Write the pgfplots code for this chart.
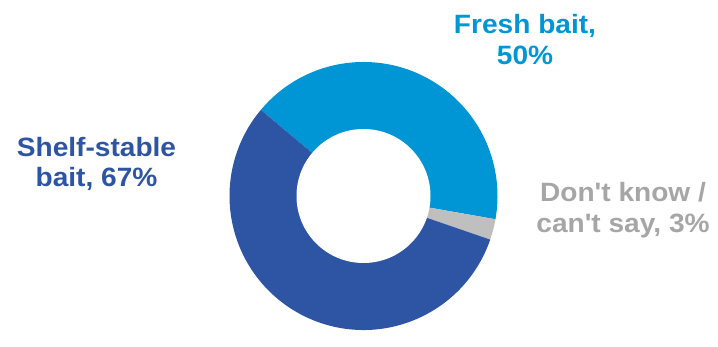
\documentclass[border=0pt]{standalone}
\usepackage{pgfplots}
\pgfplotsset{compat=1.18}
\usepackage{pgfplotstable}
\usepackage{fontspec}
\setmainfont{Liberation Sans}
\definecolor{cFresh}{HTML}{0096D6}
\definecolor{cShelf}{HTML}{2E54A4}
\definecolor{cDK}{HTML}{BFBFBF}
\definecolor{cDKtext}{HTML}{A6A6A6}
\pgfplotstableread{
label value
Fresh 50
DontKnow 3
Shelf 67
}\slices
\begin{document}
\begin{tikzpicture}
\pgfplotstablegetelem{0}{value}\of\slices \pgfmathsetmacro{\vA}{\pgfplotsretval}
\pgfplotstablegetelem{1}{value}\of\slices \pgfmathsetmacro{\vB}{\pgfplotsretval}
\pgfplotstablegetelem{2}{value}\of\slices \pgfmathsetmacro{\vC}{\pgfplotsretval}
\pgfmathsetmacro{\tot}{\vA+\vB+\vC}
\pgfmathsetmacro{\aO}{140}
\pgfmathsetmacro{\aA}{\aO-\vA/\tot*360}
\pgfmathsetmacro{\aB}{\aA-\vB/\tot*360}
\pgfmathsetmacro{\aC}{\aB-\vC/\tot*360}
\begin{axis}[hide axis, x=1pt, y=1pt, xmin=0, xmax=718, ymin=0, ymax=340,
  clip=false, scale only axis]
\path (axis cs:0,0) rectangle (axis cs:718,340);
\fill[cFresh] (axis cs:363.5,144) -- ([shift={(\aO:134pt)}]axis cs:363.5,144) arc[start angle=\aO, end angle=\aA, radius=134pt] -- cycle;
\fill[cDK] (axis cs:363.5,144) -- ([shift={(\aA:134pt)}]axis cs:363.5,144) arc[start angle=\aA, end angle=\aB, radius=134pt] -- cycle;
\fill[cShelf] (axis cs:363.5,144) -- ([shift={(\aB:134pt)}]axis cs:363.5,144) arc[start angle=\aB, end angle=\aC, radius=134pt] -- cycle;
\fill[white] (axis cs:363.5,144) circle[radius=67pt];
\begin{scope}[every node/.style={inner sep=0pt, anchor=base, xscale=1.06, font=\fontsize{26.5}{30}\selectfont\bfseries}]
\node[text=cFresh] at (axis cs:525,306.7) {Fresh bait,};
\node[text=cFresh] at (axis cs:525,275) {50\%};
\node[text=cShelf] at (axis cs:96.5,183.3) {Shelf-stable};
\node[text=cShelf] at (axis cs:96.5,153.3) {bait, 67\%};
\node[text=cDKtext] at (axis cs:623,138.3) {Don\textquotesingle t know /};
\node[text=cDKtext] at (axis cs:623,107) {can\textquotesingle t say, 3\%};
\end{scope}
\end{axis}
\end{tikzpicture}
\end{document}
